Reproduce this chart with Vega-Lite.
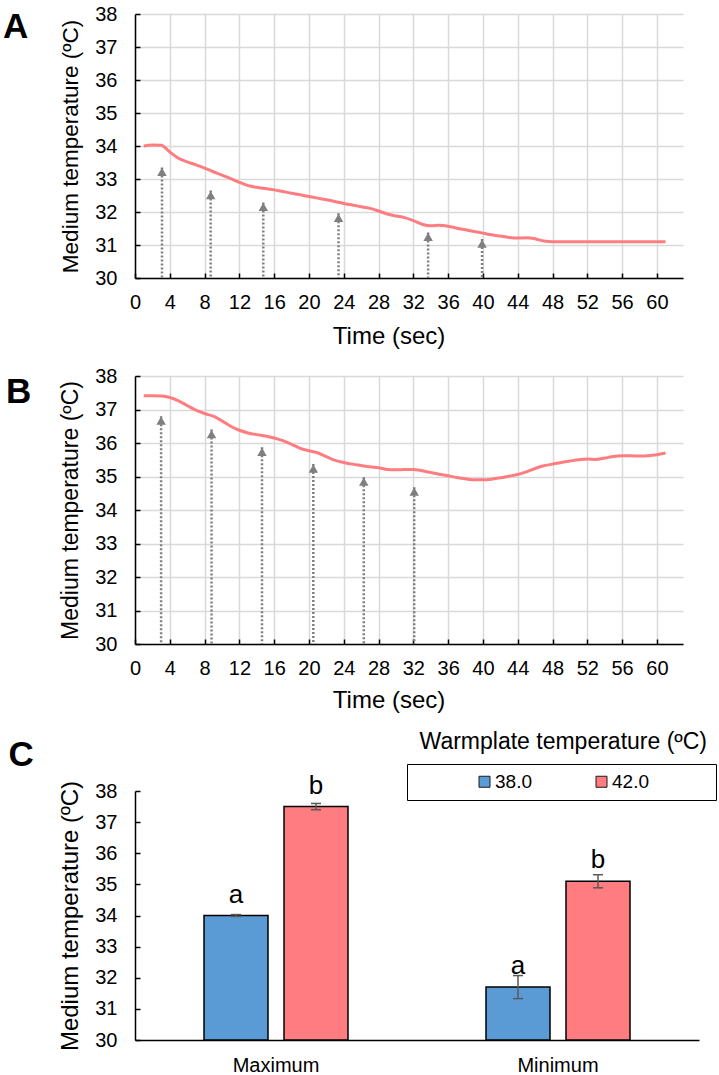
{
  "$schema": "https://vega.github.io/schema/vega-lite/v6.json",
  "padding": {"left": 3, "top": 4, "right": 4, "bottom": 0},
  "spacing": 18,
  "resolve": {"legend": {"color": "independent"}},
  "title": {"text": "C", "orient": "bottom", "anchor": "start", "frame": "bounds", "dx": 5.5, "offset": -337, "fontSize": 35, "fontWeight": "bold", "color": "#000"},
  "config": {
    "font": "Liberation Sans",
    "view": {"stroke": null},
    "axis": {"labelFontSize": 20, "titleFontSize": 22.5, "titleFontWeight": "normal", "labelColor": "#000", "titleColor": "#000", "domainColor": "#000", "domainWidth": 1.5, "tickColor": "#000", "tickWidth": 1.5, "labelFlush": false, "labelOverlap": false, "gridColor": "#D9D9D9", "gridWidth": 1.5},
    "title": {"color": "#000"}
  },
  "datasets": {
    "lineA": [
      {"t": 1, "temp": 34.00}, {"t": 2, "temp": 34.03}, {"t": 3, "temp": 34.02}, {"t": 4, "temp": 33.82}, {"t": 5, "temp": 33.63},
      {"t": 6, "temp": 33.52}, {"t": 7, "temp": 33.43}, {"t": 8, "temp": 33.33}, {"t": 9, "temp": 33.22}, {"t": 10, "temp": 33.12},
      {"t": 11, "temp": 33.01}, {"t": 12, "temp": 32.90}, {"t": 13, "temp": 32.80}, {"t": 14, "temp": 32.75}, {"t": 15, "temp": 32.71},
      {"t": 16, "temp": 32.67}, {"t": 17, "temp": 32.62}, {"t": 18, "temp": 32.57}, {"t": 19, "temp": 32.52}, {"t": 20, "temp": 32.47},
      {"t": 21, "temp": 32.42}, {"t": 22, "temp": 32.37}, {"t": 23, "temp": 32.32}, {"t": 24, "temp": 32.26}, {"t": 25, "temp": 32.21},
      {"t": 26, "temp": 32.16}, {"t": 27, "temp": 32.11}, {"t": 28, "temp": 32.03}, {"t": 29, "temp": 31.94}, {"t": 30, "temp": 31.88},
      {"t": 31, "temp": 31.83}, {"t": 32, "temp": 31.74}, {"t": 33, "temp": 31.63}, {"t": 34, "temp": 31.58}, {"t": 35, "temp": 31.60},
      {"t": 36, "temp": 31.57}, {"t": 37, "temp": 31.51}, {"t": 38, "temp": 31.46}, {"t": 39, "temp": 31.41}, {"t": 40, "temp": 31.36},
      {"t": 41, "temp": 31.31}, {"t": 42, "temp": 31.27}, {"t": 43, "temp": 31.23}, {"t": 44, "temp": 31.21}, {"t": 45, "temp": 31.22},
      {"t": 46, "temp": 31.19}, {"t": 47, "temp": 31.12}, {"t": 48, "temp": 31.10}, {"t": 50, "temp": 31.10}, {"t": 52, "temp": 31.10},
      {"t": 54, "temp": 31.10}, {"t": 56, "temp": 31.10}, {"t": 58, "temp": 31.10}, {"t": 60, "temp": 31.10}, {"t": 61, "temp": 31.10}
    ],
    "lineB": [
      {"t": 1, "temp": 37.41}, {"t": 2, "temp": 37.41}, {"t": 3, "temp": 37.40}, {"t": 4, "temp": 37.36}, {"t": 5, "temp": 37.26},
      {"t": 6, "temp": 37.12}, {"t": 7, "temp": 36.98}, {"t": 8, "temp": 36.88}, {"t": 9, "temp": 36.80}, {"t": 10, "temp": 36.66},
      {"t": 11, "temp": 36.50}, {"t": 12, "temp": 36.38}, {"t": 13, "temp": 36.30}, {"t": 14, "temp": 36.25}, {"t": 15, "temp": 36.21},
      {"t": 16, "temp": 36.15}, {"t": 17, "temp": 36.07}, {"t": 18, "temp": 35.96}, {"t": 19, "temp": 35.84}, {"t": 20, "temp": 35.77},
      {"t": 21, "temp": 35.71}, {"t": 22, "temp": 35.59}, {"t": 23, "temp": 35.48}, {"t": 24, "temp": 35.42}, {"t": 25, "temp": 35.37},
      {"t": 26, "temp": 35.33}, {"t": 27, "temp": 35.29}, {"t": 28, "temp": 35.26}, {"t": 29, "temp": 35.21}, {"t": 30, "temp": 35.20},
      {"t": 31, "temp": 35.21}, {"t": 32, "temp": 35.21}, {"t": 33, "temp": 35.17}, {"t": 34, "temp": 35.12}, {"t": 35, "temp": 35.07},
      {"t": 36, "temp": 35.02}, {"t": 37, "temp": 34.97}, {"t": 38, "temp": 34.93}, {"t": 39, "temp": 34.90}, {"t": 40, "temp": 34.90},
      {"t": 41, "temp": 34.92}, {"t": 42, "temp": 34.96}, {"t": 43, "temp": 35.01}, {"t": 44, "temp": 35.06}, {"t": 45, "temp": 35.14},
      {"t": 46, "temp": 35.24}, {"t": 47, "temp": 35.32}, {"t": 48, "temp": 35.37}, {"t": 49, "temp": 35.42}, {"t": 50, "temp": 35.46},
      {"t": 51, "temp": 35.50}, {"t": 52, "temp": 35.52}, {"t": 53, "temp": 35.51}, {"t": 54, "temp": 35.55}, {"t": 55, "temp": 35.60},
      {"t": 56, "temp": 35.62}, {"t": 57, "temp": 35.62}, {"t": 58, "temp": 35.61}, {"t": 59, "temp": 35.62}, {"t": 60, "temp": 35.65},
      {"t": 61, "temp": 35.70}
    ],
    "arrowsA": [
      {"t": 3.1, "temp": 33.35}, {"t": 8.7, "temp": 32.65}, {"t": 14.75, "temp": 32.29},
      {"t": 23.4, "temp": 31.96}, {"t": 33.7, "temp": 31.38}, {"t": 39.9, "temp": 31.18}
    ],
    "arrowsB": [
      {"t": 3.0, "temp": 36.8}, {"t": 8.8, "temp": 36.4}, {"t": 14.6, "temp": 35.87},
      {"t": 20.5, "temp": 35.37}, {"t": 26.3, "temp": 34.98}, {"t": 32.1, "temp": 34.68}
    ],
    "bars": [
      {"stat": "Maximum", "plate": "38.0", "mean": 34.0, "lo": 33.97, "hi": 34.03, "sig": "a"},
      {"stat": "Maximum", "plate": "42.0", "mean": 37.5, "lo": 37.4, "hi": 37.6, "sig": "b"},
      {"stat": "Minimum", "plate": "38.0", "mean": 31.7, "lo": 31.33, "hi": 32.07, "sig": "a"},
      {"stat": "Minimum", "plate": "42.0", "mean": 35.1, "lo": 34.89, "hi": 35.31, "sig": "b"}
    ]
  },
  "vconcat": [
    {
      "width": 548,
      "height": 264,
      "title": {"text": "A", "anchor": "start", "frame": "group", "dx": -132, "offset": -41, "fontSize": 35, "fontWeight": "bold"},
      "encoding": {
        "x": {"field": "t", "type": "quantitative", "scale": {"domain": [0, 63], "nice": false, "zero": false},
          "axis": {"values": [0, 4, 8, 12, 16, 20, 24, 28, 32, 36, 40, 44, 48, 52, 56, 60], "title": "Time (sec)", "titleFontSize": 24, "titleX": 253.5, "titlePadding": 12, "labelPadding": 19, "tickSize": -5, "grid": true}},
        "y": {"field": "temp", "type": "quantitative", "scale": {"domain": [30, 38], "nice": false, "zero": false},
          "axis": {"values": [30, 31, 32, 33, 34, 35, 36, 37, 38], "title": "Medium temperature (ºC)", "titleFontSize": 22.5, "labelPadding": 23, "tickSize": -5, "titlePadding": 12, "grid": true}}
      },
      "layer": [
        {
          "data": {"name": "arrowsA"},
          "mark": {"type": "rule", "color": "#7F7F7F", "strokeWidth": 2.5, "strokeDash": [2, 2]},
          "encoding": {"y2": {"datum": 30}}
        },
        {
          "data": {"name": "arrowsA"},
          "mark": {"type": "point", "shape": "triangle-up", "filled": true, "size": 90, "color": "#7F7F7F", "opacity": 1, "yOffset": 4.5}
        },
        {
          "data": {"name": "lineA"},
          "mark": {"type": "line", "color": "#FF7C80", "strokeWidth": 3, "interpolate": "monotone"}
        }
      ]
    },
    {
      "width": 548,
      "height": 268,
      "title": {"text": "B", "anchor": "start", "frame": "group", "dx": -129, "offset": -43.5, "fontSize": 35, "fontWeight": "bold"},
      "encoding": {
        "x": {"field": "t", "type": "quantitative", "scale": {"domain": [0, 63], "nice": false, "zero": false},
          "axis": {"values": [0, 4, 8, 12, 16, 20, 24, 28, 32, 36, 40, 44, 48, 52, 56, 60], "title": "Time (sec)", "titleFontSize": 24, "titleX": 253.5, "titlePadding": 10, "labelPadding": 19, "tickSize": -5, "grid": true}},
        "y": {"field": "temp", "type": "quantitative", "scale": {"domain": [30, 38], "nice": false, "zero": false},
          "axis": {"values": [30, 31, 32, 33, 34, 35, 36, 37, 38], "title": "Medium temperature (ºC)", "titleFontSize": 23, "labelPadding": 23, "tickSize": -5, "titlePadding": 12, "grid": true}}
      },
      "layer": [
        {
          "data": {"name": "arrowsB"},
          "mark": {"type": "rule", "color": "#7F7F7F", "strokeWidth": 2.5, "strokeDash": [2, 2]},
          "encoding": {"y2": {"datum": 30}}
        },
        {
          "data": {"name": "arrowsB"},
          "mark": {"type": "point", "shape": "triangle-up", "filled": true, "size": 90, "color": "#7F7F7F", "opacity": 1, "yOffset": 4.5}
        },
        {
          "data": {"name": "lineB"},
          "mark": {"type": "line", "color": "#FF7C80", "strokeWidth": 3, "interpolate": "monotone"}
        }
      ]
    },
    {
      "width": 564,
      "height": 249,
      "title": {"text": "Warmplate temperature (ºC)", "anchor": "end", "frame": "group", "dx": 8, "offset": 10, "fontSize": 23, "fontWeight": "normal"},
      "data": {"name": "bars"},
      "encoding": {
        "x": {"field": "stat", "type": "nominal", "sort": ["Maximum", "Minimum"], "scale": {"paddingInner": 0, "paddingOuter": 0},
          "axis": {"title": null, "ticks": false, "labelPadding": 15, "labelAngle": 0, "labelFontSize": 20}},
        "xOffset": {"field": "plate", "type": "nominal", "sort": ["38.0", "42.0"], "scale": {"paddingInner": 0.2, "paddingOuter": 0.8625}}
      },
      "layer": [
        {
          "mark": {"type": "bar", "stroke": "#000", "strokeWidth": 1.5},
          "encoding": {
            "y": {"field": "mean", "type": "quantitative", "scale": {"domain": [30, 38], "nice": false, "zero": false},
              "axis": {"values": [30, 31, 32, 33, 34, 35, 36, 37, 38], "title": "Medium temperature (ºC)", "titleFontSize": 24, "labelPadding": 23, "tickSize": -5, "titlePadding": 12, "grid": false}},
            "y2": {"datum": 30},
            "color": {"field": "plate", "type": "nominal", "scale": {"domain": ["38.0", "42.0"], "range": ["#5B9BD5", "#FF7C80"]},
              "legend": {"title": " ", "titleOrient": "left", "titleFontSize": 2, "titlePadding": 60, "orient": "none", "legendX": 272, "legendY": -27, "direction": "horizontal", "strokeColor": "#000", "padding": 8, "symbolType": "square", "symbolSize": 121, "symbolStrokeColor": "#1a1a1a", "symbolStrokeWidth": 1, "symbolOpacity": 1, "labelFontSize": 19, "labelColor": "#000", "labelOffset": 1, "columnPadding": 60, "labelExpr": "datum.label == '42.0' ? datum.label + '\u00a0\u00a0\u00a0\u00a0\u00a0\u00a0\u00a0\u00a0\u00a0\u00a0\u00a0\u200b' : datum.label"}}
          }
        },
        {
          "mark": {"type": "rule", "color": "#595959", "strokeWidth": 1.5},
          "encoding": {
            "y": {"field": "lo", "type": "quantitative", "scale": {"domain": [30, 38], "nice": false, "zero": false},
              "axis": {"values": [30, 31, 32, 33, 34, 35, 36, 37, 38], "title": "Medium temperature (ºC)", "titleFontSize": 24, "labelPadding": 23, "tickSize": -5, "titlePadding": 12, "grid": false}},
            "y2": {"field": "hi"}
          }
        },
        {
          "mark": {"type": "tick", "color": "#595959", "thickness": 1.5, "size": 10, "opacity": 1},
          "encoding": {
            "y": {"field": "lo", "type": "quantitative", "scale": {"domain": [30, 38], "nice": false, "zero": false},
              "axis": {"values": [30, 31, 32, 33, 34, 35, 36, 37, 38], "title": "Medium temperature (ºC)", "titleFontSize": 24, "labelPadding": 23, "tickSize": -5, "titlePadding": 12, "grid": false}}
          }
        },
        {
          "mark": {"type": "tick", "color": "#595959", "thickness": 1.5, "size": 10, "opacity": 1},
          "encoding": {
            "y": {"field": "hi", "type": "quantitative", "scale": {"domain": [30, 38], "nice": false, "zero": false},
              "axis": {"values": [30, 31, 32, 33, 34, 35, 36, 37, 38], "title": "Medium temperature (ºC)", "titleFontSize": 24, "labelPadding": 23, "tickSize": -5, "titlePadding": 12, "grid": false}}
          }
        },
        {
          "mark": {"type": "text", "fontSize": 26, "baseline": "alphabetic", "dy": -13, "color": "#000"},
          "encoding": {
            "y": {"field": "mean", "type": "quantitative", "scale": {"domain": [30, 38], "nice": false, "zero": false},
              "axis": {"values": [30, 31, 32, 33, 34, 35, 36, 37, 38], "title": "Medium temperature (ºC)", "titleFontSize": 24, "labelPadding": 23, "tickSize": -5, "titlePadding": 12, "grid": false}},
            "text": {"field": "sig"}
          }
        }
      ]
    }
  ]
}
